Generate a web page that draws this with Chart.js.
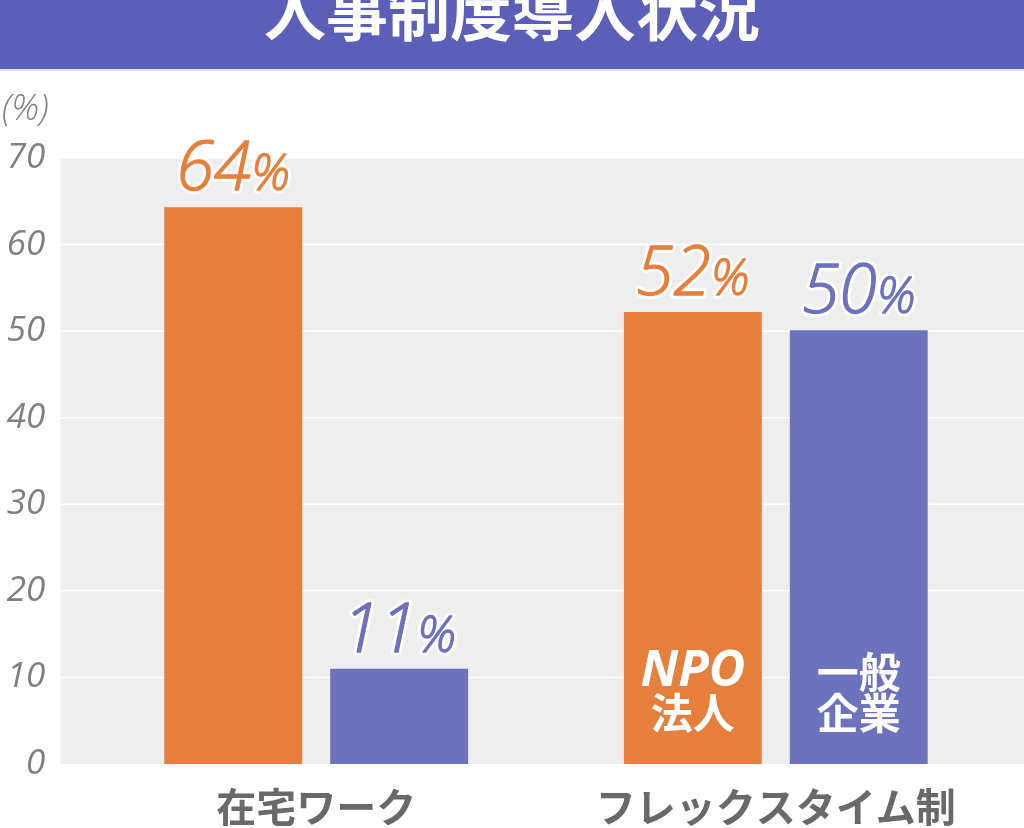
<!DOCTYPE html>
<html>
<head>
<meta charset="utf-8">
<script src="https://cdn.jsdelivr.net/npm/chart.js@4.4.0/dist/chart.umd.min.js"></script>
<style>
  html, body { margin: 0; padding: 0; background: #ffffff; }
  #c { display: block; }
</style>
</head>
<body>
<canvas id="c" width="1024" height="828"></canvas>
<script>
const titleText = '人事制度導入状況';
const unitText = '(%)';
const categories = ['在宅ワーク', 'フレックスタイム制'];
const npoValues = [64.3, 52.2];
const generalValues = [11.0, 50.1];
const npoLabels = ['64', '52'];
const generalLabels = ['11', '50'];
const yTicks = [0, 10, 20, 30, 40, 50, 60, 70];
const seriesNames = [['NPO', '法人'], ['一般', '企業']];

const ORANGE = '#E67F3B';
const PURPLE = '#6C72BC';
const BANNER = '#5B5FB8';
const CJK = '"Noto Sans CJK JP", "Noto Sans", sans-serif';
const LAT = '"Open Sans", "Noto Sans", sans-serif';

const decorPlugin = {
  id: 'decor',
  beforeDraw(chart) {
    const ctx = chart.ctx;
    const ca = chart.chartArea;
    const W = chart.width;
    const ys = chart.scales.y;
    ctx.save();
    ctx.fillStyle = '#ffffff';
    ctx.fillRect(0, 0, W, chart.height);
    // banner
    ctx.fillStyle = BANNER;
    ctx.fillRect(0, 0, W, 69);
    ctx.fillStyle = '#E2E2E6';
    ctx.fillRect(0, 69, W, 2);
    ctx.fillStyle = '#ffffff';
    ctx.font = 'bold 62px ' + CJK;
    ctx.textAlign = 'center';
    ctx.textBaseline = 'alphabetic';
    ctx.fillText(titleText, W / 2, 36);
    // plot background
    const bgLeft = ca.left - 26;
    ctx.fillStyle = '#EEEEEE';
    ctx.fillRect(bgLeft, ca.top, W - bgLeft, ca.bottom - ca.top);
    // gridlines
    ctx.strokeStyle = '#ffffff';
    ctx.lineWidth = 1.5;
    yTicks.forEach(v => {
      if (v === 0) return;
      const y = ys.getPixelForValue(v);
      ctx.beginPath();
      ctx.moveTo(bgLeft, y);
      ctx.lineTo(W, y);
      ctx.stroke();
    });
    // unit
    ctx.fillStyle = '#808080';
    ctx.font = 'italic 300 36px ' + LAT;
    ctx.textAlign = 'left';
    ctx.textBaseline = 'middle';
    ctx.fillText(unitText, 2, 110);
    ctx.restore();
  },
  afterDatasetsDraw(chart) {
    const ctx = chart.ctx;
    const ys = chart.scales.y;
    const labelSets = [npoLabels, generalLabels];
    const colors = [ORANGE, PURPLE];
    const numFont = 'italic 300 68px ' + LAT;
    const pctFont = 'italic 300 50px ' + LAT;
    ctx.save();
    chart.data.datasets.forEach((ds, di) => {
      const meta = chart.getDatasetMeta(di);
      meta.data.forEach((bar, i) => {
        const num = labelSets[di][i];
        ctx.font = numFont;
        const w1 = ctx.measureText(num).width;
        ctx.font = pctFont;
        const w2 = ctx.measureText('%').width;
        const x0 = bar.x - (w1 + w2) / 2;
        const yb = bar.y - 17;
        ctx.textAlign = 'left';
        ctx.textBaseline = 'alphabetic';
        ctx.lineJoin = 'round';
        const parts = [[num, numFont, x0], ['%', pctFont, x0 + w1]];
        parts.forEach(([t, f, x]) => {
          ctx.font = f;
          ctx.strokeStyle = '#ffffff';
          ctx.lineWidth = 7;
          ctx.strokeText(t, x, yb);
        });
        parts.forEach(([t, f, x]) => {
          ctx.font = f;
          ctx.fillStyle = colors[di];
          ctx.fillText(t, x, yb);
          ctx.strokeStyle = colors[di];
          ctx.lineWidth = 1.3;
          ctx.strokeText(t, x, yb);
        });
      });
      // series name inside the last category's bar
      const last = meta.data[meta.data.length - 1];
      const base = ys.getPixelForValue(0);
      ctx.fillStyle = '#ffffff';
      ctx.textAlign = 'center';
      ctx.textBaseline = 'middle';
      const names = seriesNames[di];
      const isLatin = /^[A-Za-z]+$/.test(names[0]);
      ctx.font = (isLatin ? 'italic bold 50px ' + LAT : 'bold 42px ' + CJK);
      ctx.fillText(names[0], last.x, base - 92);
      ctx.font = 'bold 42px ' + CJK;
      ctx.fillText(names[1], last.x, base - 51);
    });
    ctx.restore();
  }
};

new Chart(document.getElementById('c'), {
  type: 'bar',
  data: {
    labels: categories,
    datasets: [
      { label: seriesNames[0].join(''), data: npoValues, backgroundColor: ORANGE, borderWidth: 0,
        categoryPercentage: 0.722, barPercentage: 0.831 },
      { label: seriesNames[1].join(''), data: generalValues, backgroundColor: PURPLE, borderWidth: 0,
        categoryPercentage: 0.722, barPercentage: 0.831 }
    ]
  },
  options: {
    responsive: false,
    animation: false,
    devicePixelRatio: 1,
    layout: { padding: { top: 158, right: 18.4, left: 0, bottom: 0 } },
    plugins: { legend: { display: false }, tooltip: { enabled: false }, title: { display: false } },
    scales: {
      x: {
        grid: { display: false },
        border: { display: false },
        ticks: { color: '#696969', font: { family: CJK, size: 40, weight: 'bold' }, padding: 11 },
        afterFit(scale) { scale.height = 64; }
      },
      y: {
        min: 0, max: 70,
        afterBuildTicks(scale) { scale.ticks = yTicks.map(v => ({ value: v })); },
        grid: { display: false, drawTicks: false },
        border: { display: false },
        ticks: { color: '#808080', font: { family: LAT, size: 35, style: 'italic', weight: 'normal' }, padding: 41 },
        afterFit(scale) { scale.width = 86.4; }
      }
    }
  },
  plugins: [decorPlugin]
});
</script>
</body>
</html>
